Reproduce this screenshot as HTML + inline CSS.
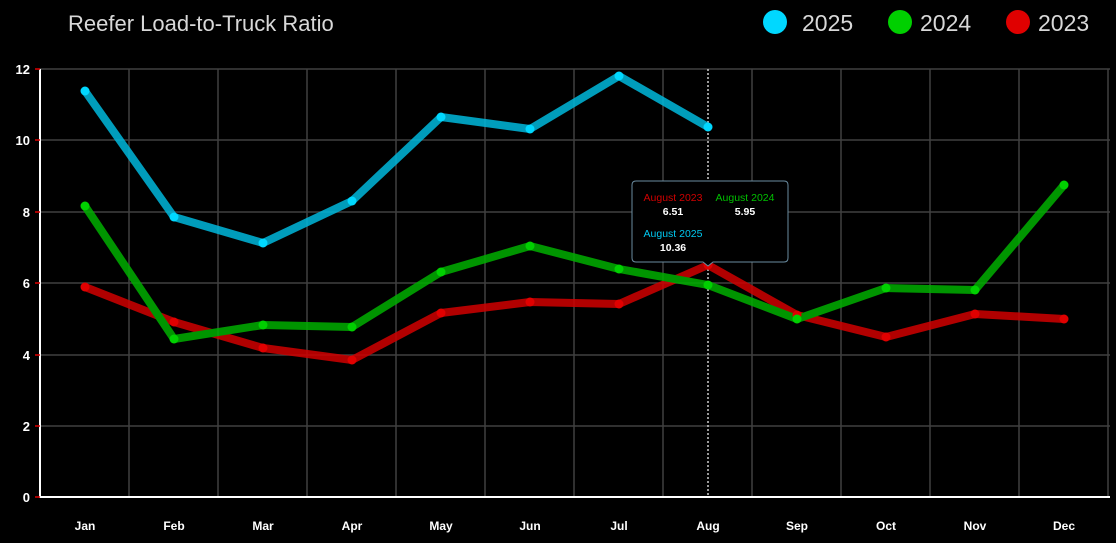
<!DOCTYPE html>
<html><head><style>
body{margin:0;background:#000;}
svg{display:block;font-family:"Liberation Sans",sans-serif;}
</style></head><body>
<svg width="1116" height="543" viewBox="0 0 1116 543">
<rect width="1116" height="543" fill="#000"/>
<text x="68" y="31" fill="#d8d8d8" font-size="22">Reefer Load-to-Truck Ratio</text>
<circle cx="775" cy="22" r="12" fill="#00d8ff"/><text x="802" y="31" fill="#d8d8d8" font-size="23">2025</text>
<circle cx="900" cy="22" r="12" fill="#00d000"/><text x="920" y="31" fill="#d8d8d8" font-size="23">2024</text>
<circle cx="1018" cy="22" r="12" fill="#e00000"/><text x="1038" y="31" fill="#d8d8d8" font-size="23">2023</text>
<g stroke="#404040" stroke-width="1.5">
<line x1="40" y1="69" x2="1110" y2="69"/><line x1="40" y1="140" x2="1110" y2="140"/><line x1="40" y1="212" x2="1110" y2="212"/><line x1="40" y1="283" x2="1110" y2="283"/><line x1="40" y1="355" x2="1110" y2="355"/><line x1="40" y1="426" x2="1110" y2="426"/>
<line x1="129" y1="69" x2="129" y2="497"/><line x1="218" y1="69" x2="218" y2="497"/><line x1="307" y1="69" x2="307" y2="497"/><line x1="396" y1="69" x2="396" y2="497"/><line x1="485" y1="69" x2="485" y2="497"/><line x1="574" y1="69" x2="574" y2="497"/><line x1="663" y1="69" x2="663" y2="497"/><line x1="752" y1="69" x2="752" y2="497"/><line x1="841" y1="69" x2="841" y2="497"/><line x1="930" y1="69" x2="930" y2="497"/><line x1="1019" y1="69" x2="1019" y2="497"/><line x1="1108" y1="69" x2="1108" y2="497"/>
</g>
<line x1="40" y1="69" x2="40" y2="498" stroke="#fff" stroke-width="2"/>
<line x1="40" y1="497" x2="1110" y2="497" stroke="#fff" stroke-width="2"/>
<g stroke="#e00000" stroke-width="1.5"><line x1="35" y1="69" x2="40" y2="69"/><line x1="35" y1="140" x2="40" y2="140"/><line x1="35" y1="212" x2="40" y2="212"/><line x1="35" y1="283" x2="40" y2="283"/><line x1="35" y1="355" x2="40" y2="355"/><line x1="35" y1="426" x2="40" y2="426"/><line x1="35" y1="497" x2="40" y2="497"/></g>
<g fill="#fff" font-size="13" font-weight="bold" text-anchor="end">
<text x="30" y="74">12</text><text x="30" y="145">10</text><text x="30" y="217">8</text><text x="30" y="288">6</text><text x="30" y="360">4</text><text x="30" y="431">2</text><text x="30" y="502">0</text>
</g>
<g fill="#fff" font-size="12" font-weight="bold" text-anchor="middle">
<text x="85" y="530">Jan</text><text x="174" y="530">Feb</text><text x="263" y="530">Mar</text><text x="352" y="530">Apr</text><text x="441" y="530">May</text><text x="530" y="530">Jun</text><text x="619" y="530">Jul</text><text x="708" y="530">Aug</text><text x="797" y="530">Sep</text><text x="886" y="530">Oct</text><text x="975" y="530">Nov</text><text x="1064" y="530">Dec</text>
</g>
<line x1="708" y1="69" x2="708" y2="497" stroke="#ccc" stroke-width="1.5" stroke-dasharray="2,2"/>
<g fill="none" stroke-width="8" stroke-linejoin="round" stroke-linecap="round" opacity="0.85">
<polyline stroke="#d00000" points="85,287 174,322 263,348 352,360 441,313 530,302 619,304 708,265 797,315 886,337 975,314 1064,319"/>
<polyline stroke="#00b000" points="85,206 174,339 263,325 352,327 441,272 530,246 619,269 708,285 797,319 886,288 975,290 1064,185"/>
<polyline stroke="#00b8dc" points="85,91 174,217 263,243 352,201 441,117 530,129 619,76 708,127"/>
</g>
<g fill="#e00000"><circle cx="85" cy="287" r="4.5"/><circle cx="174" cy="322" r="4.5"/><circle cx="263" cy="348" r="4.5"/><circle cx="352" cy="360" r="4.5"/><circle cx="441" cy="313" r="4.5"/><circle cx="530" cy="302" r="4.5"/><circle cx="619" cy="304" r="4.5"/><circle cx="708" cy="265" r="4.5"/><circle cx="797" cy="315" r="4.5"/><circle cx="886" cy="337" r="4.5"/><circle cx="975" cy="314" r="4.5"/><circle cx="1064" cy="319" r="4.5"/></g>
<g fill="#00d000"><circle cx="85" cy="206" r="4.5"/><circle cx="174" cy="339" r="4.5"/><circle cx="263" cy="325" r="4.5"/><circle cx="352" cy="327" r="4.5"/><circle cx="441" cy="272" r="4.5"/><circle cx="530" cy="246" r="4.5"/><circle cx="619" cy="269" r="4.5"/><circle cx="708" cy="285" r="4.5"/><circle cx="797" cy="319" r="4.5"/><circle cx="886" cy="288" r="4.5"/><circle cx="975" cy="290" r="4.5"/><circle cx="1064" cy="185" r="4.5"/></g>
<g fill="#00d8ff"><circle cx="85" cy="91" r="4.5"/><circle cx="174" cy="217" r="4.5"/><circle cx="263" cy="243" r="4.5"/><circle cx="352" cy="201" r="4.5"/><circle cx="441" cy="117" r="4.5"/><circle cx="530" cy="129" r="4.5"/><circle cx="619" cy="76" r="4.5"/><circle cx="708" cy="127" r="4.5"/></g>
<path d="M636,181 H784 Q788,181 788,185 V258 Q788,262 784,262 H713 L708,266 L703,262 H636 Q632,262 632,258 V185 Q632,181 636,181 Z" fill="#000" stroke="#6a8ca0" stroke-width="1"/>
<g font-size="10.5" text-anchor="middle">
<text x="673" y="201" fill="#d00000">August 2023</text>
<text x="673" y="215" fill="#fff" font-weight="bold">6.51</text>
<text x="745" y="201" fill="#00c000">August 2024</text>
<text x="745" y="215" fill="#fff" font-weight="bold">5.95</text>
<text x="673" y="237" fill="#00c8f0">August 2025</text>
<text x="673" y="251" fill="#fff" font-weight="bold">10.36</text>
</g>
</svg>
</body></html>
